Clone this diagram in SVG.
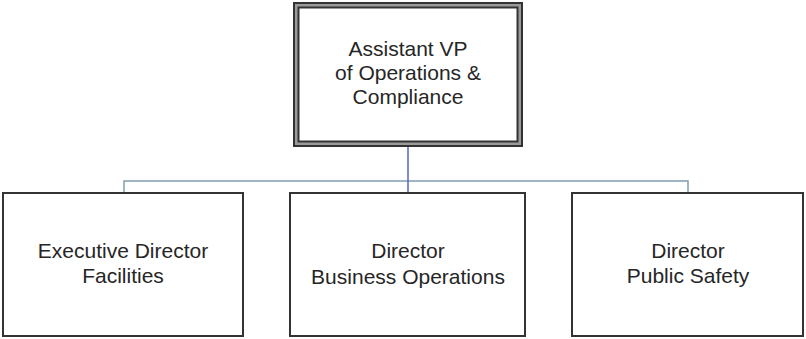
<svg xmlns="http://www.w3.org/2000/svg" width="806" height="339" viewBox="0 0 806 339">
<style>
  .box { fill: #ffffff; stroke: #333333; stroke-width: 2; }
  .outer { fill: #9a9a9a; stroke: #333333; stroke-width: 2; }
  .lbl { font-family: "Liberation Sans", Arial, sans-serif; font-size: 21px; fill: #262626; text-anchor: middle; }
  .hl { stroke: #7f9fae; stroke-width: 1.5; fill: none; }
  .vl { stroke: #5566c4; stroke-width: 1.5; fill: none; }
</style>
<rect width="806" height="339" fill="#ffffff"/>
<g id="connectors">
  <path class="hl" d="M124,193 V181 H688 V193"/>
  <path class="vl" d="M408,146 V192"/>
</g>
<g id="node-avp">
  <rect class="outer" x="294" y="3" width="228" height="143"/>
  <rect class="box" x="298.5" y="7.5" width="219" height="134"/>
  <text class="lbl" x="408" y="56">Assistant VP</text>
  <text class="lbl" x="408" y="80">of Operations &amp;</text>
  <text class="lbl" x="408" y="104">Compliance</text>
</g>
<g id="node-facilities">
  <rect class="box" x="3" y="193" width="240" height="143"/>
  <text class="lbl" x="123" y="258">Executive Director</text>
  <text class="lbl" x="123" y="283">Facilities</text>
</g>
<g id="node-business">
  <rect class="box" x="290" y="193" width="235" height="143"/>
  <text class="lbl" x="408" y="258">Director</text>
  <text class="lbl" x="408" y="284">Business Operations</text>
</g>
<g id="node-safety">
  <rect class="box" x="572" y="193" width="231" height="143"/>
  <text class="lbl" x="688" y="258">Director</text>
  <text class="lbl" x="688" y="283">Public Safety</text>
</g>
</svg>
